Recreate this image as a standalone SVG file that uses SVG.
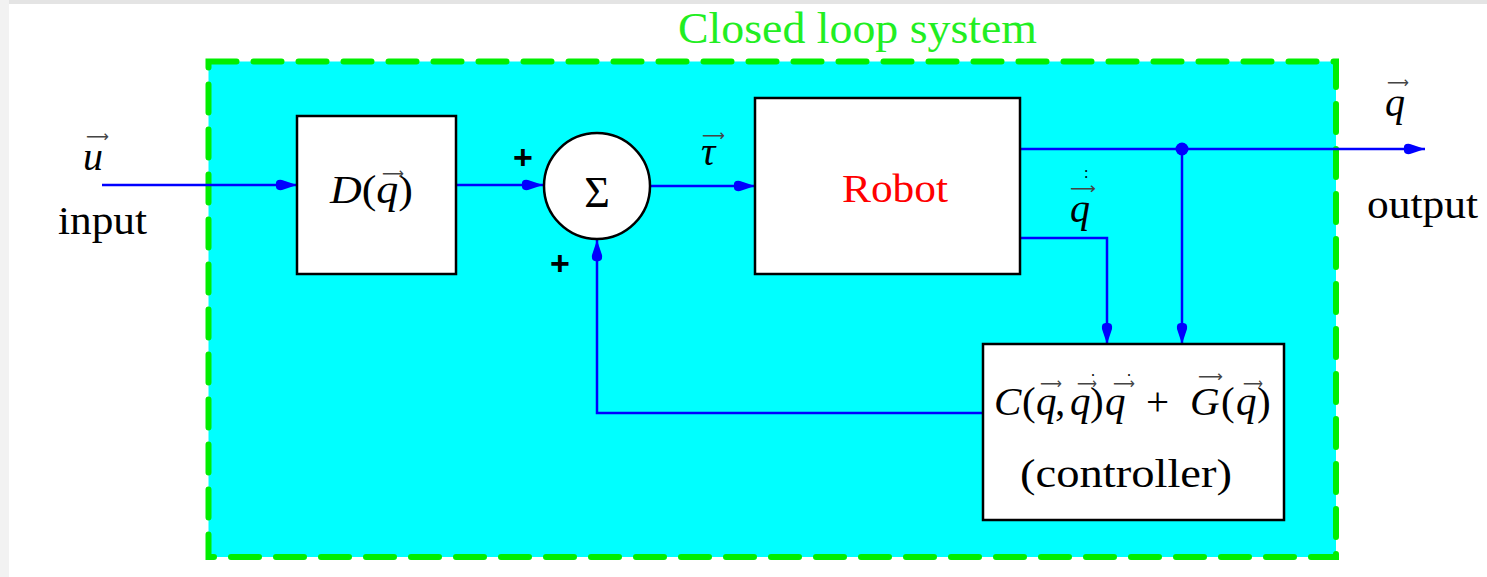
<svg xmlns="http://www.w3.org/2000/svg" width="1487" height="577" viewBox="0 0 1487 577">
<style>
.t{font-family:"Liberation Serif","Times New Roman",serif;fill:#000}
.i{font-style:italic}
.vec{font-family:"DejaVu Sans",sans-serif;font-size:16px;fill:#444}
.pl{font-family:"Liberation Sans",Arial,sans-serif;font-weight:bold;font-size:34px;fill:#000}
.box{fill:#fff;stroke:#000;stroke-width:2.5}
.wire{fill:none;stroke:#0000ff;stroke-width:2.5}
</style>
<defs>
<marker id="ah" markerUnits="userSpaceOnUse" markerWidth="24" markerHeight="12" refX="23" refY="6" orient="auto">
<path d="M2,6 Q1,0 8,1 L23,6 L8,11 Q1,12 2,6 Z" fill="#0000ff"/>
</marker>
</defs>
<rect width="1487" height="577" fill="#fff"/>
<rect x="0" y="0" width="1487" height="4" fill="#e4e4e4"/>
<rect x="0" y="0" width="9" height="577" fill="#f2f2f2"/>
<g id="frame">
<rect x="208.5" y="61.5" width="1127.5" height="495.5" fill="#00ffff" stroke="#00ee00" stroke-width="6" stroke-dasharray="28 17" stroke-linecap="round"/>
<text class="t" x="678" y="43" font-size="44" style="fill:#22ee22" textLength="359" lengthAdjust="spacingAndGlyphs">Closed loop system</text>
</g>
<g id="connectors">
<path class="wire" d="M102,185 H297" marker-end="url(#ah)"/>
<path class="wire" d="M456,185 H543" marker-end="url(#ah)"/>
<path class="wire" d="M651,186 H755" marker-end="url(#ah)"/>
<path class="wire" d="M1020,149 H1425" marker-end="url(#ah)"/>
<path class="wire" d="M1182,149 V344" marker-end="url(#ah)"/>
<path class="wire" d="M1020,238 H1107 V344" marker-end="url(#ah)"/>
<path class="wire" d="M983,413 H597 V240" marker-end="url(#ah)"/>
<circle cx="1182" cy="149" r="6.5" fill="#0000ff"/>
</g>
<g id="input-label">
<text class="t i" x="83" y="170" font-size="40">u</text>
<text class="vec" x="86" y="142" textLength="23" lengthAdjust="spacingAndGlyphs">⟶</text>
<text class="t" x="58" y="234" font-size="39" textLength="89" lengthAdjust="spacingAndGlyphs">input</text>
</g>
<g id="D">
<rect class="box" x="297" y="116" width="159" height="158"/>
<text class="t" x="330" y="203" font-size="40" textLength="83" lengthAdjust="spacingAndGlyphs"><tspan class="i">D</tspan>(<tspan class="i">q</tspan>)</text>
<text class="vec" x="382" y="179" textLength="22" lengthAdjust="spacingAndGlyphs">⟶</text>
</g>
<g id="sum">
<circle cx="597" cy="186" r="53" fill="#fff" stroke="#000" stroke-width="2.5"/>
<text class="t" x="597" y="207" font-size="44" text-anchor="middle">Σ</text>
<text class="pl" x="523" y="169" text-anchor="middle">+</text>
<text class="pl" x="560" y="275" text-anchor="middle">+</text>
</g>
<g id="tau-label">
<text class="t i" x="701" y="165" font-size="40">τ</text>
<text class="vec" x="702" y="141" textLength="23" lengthAdjust="spacingAndGlyphs">⟶</text>
</g>
<g id="robot">
<rect class="box" x="755" y="98" width="265" height="176"/>
<text class="t" x="842" y="202" font-size="40" style="fill:#ff0000" textLength="106" lengthAdjust="spacingAndGlyphs">Robot</text>
</g>
<g id="qdot-label">
<text class="t i" x="1070" y="222" font-size="40">q</text>
<text class="vec" x="1070" y="194" textLength="26" lengthAdjust="spacingAndGlyphs">⟶</text>
<text class="t" x="1084" y="178" font-size="16">:</text>
</g>
<g id="output-label">
<text class="t i" x="1385" y="116" font-size="40">q</text>
<text class="vec" x="1387" y="88" textLength="22" lengthAdjust="spacingAndGlyphs">⟶</text>
<text class="t" x="1367" y="218" font-size="39" textLength="111" lengthAdjust="spacingAndGlyphs">output</text>
</g>
<g id="controller">
<rect class="box" x="983" y="344" width="301" height="176"/>
<text class="t" y="415" font-size="41"><tspan class="i" x="994">C</tspan><tspan x="1022">(</tspan><tspan class="i" x="1036">q</tspan><tspan x="1055">,</tspan><tspan class="i" x="1070">q</tspan><tspan x="1090">)</tspan><tspan class="i" x="1105">q</tspan><tspan x="1146">+</tspan><tspan class="i" x="1190">G</tspan><tspan x="1221">(</tspan><tspan class="i" x="1236">q</tspan><tspan x="1257">)</tspan></text>
<text class="vec" x="1040" y="389" textLength="22" lengthAdjust="spacingAndGlyphs">⟶</text>
<text class="vec" x="1077" y="389" textLength="20" lengthAdjust="spacingAndGlyphs">⟶</text>
<text class="vec" x="1113" y="389" textLength="22" lengthAdjust="spacingAndGlyphs">⟶</text>
<text class="vec" x="1198" y="382" textLength="25" lengthAdjust="spacingAndGlyphs">⟶</text>
<text class="vec" x="1243" y="389" textLength="20" lengthAdjust="spacingAndGlyphs">⟶</text>
<text class="t" x="1091" y="376" font-size="16">.</text>
<text class="t" x="1127" y="376" font-size="16">.</text>
<text class="t" x="1020" y="487" font-size="40" textLength="212" lengthAdjust="spacingAndGlyphs">(controller)</text>
</g>
</svg>
